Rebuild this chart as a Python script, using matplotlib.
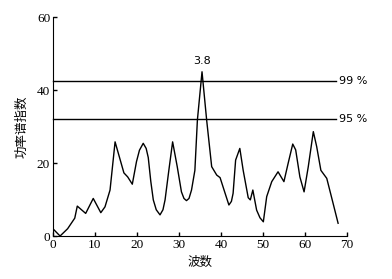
import matplotlib.pyplot as plt

# power spectrum
wave_no = [0, 1.7, 3.5, 5.2, 5.8, 7.8, 9.6, 11.4, 12.4, 13.6, 14.8, 16.9, 17.8, 18.9,
           19.9, 20.6, 21.5, 22.2, 22.7, 23.3, 23.9, 24.6, 25.5, 26.2, 26.7, 27.6, 28.5,
           29.6, 30.6, 31.2, 31.8, 32.4, 33.0, 33.8, 34.4, 35.5, 36.6, 37.8, 39.0,
           39.8, 41.0, 41.9, 42.5, 42.9, 43.5, 44.5, 45.3, 46.5, 47.0, 47.6, 48.5,
           49.3, 50.1, 50.9, 52.1, 53.6, 55.0, 56.0, 57.1, 57.8, 58.8, 59.8, 60.8,
           62.0, 62.8, 63.8, 65.2, 66.5, 67.9]
power = [2.0, 0.0, 2.0, 4.9, 8.2, 6.2, 10.3, 6.4, 8.0, 12.6, 25.8, 17.3, 16.2, 14.2,
         20.4, 23.5, 25.4, 24.0, 21.5, 15.0, 9.9, 7.2, 5.8, 7.2, 9.9, 18.0, 25.8,
         19.0, 12.1, 10.3, 9.7, 10.3, 12.6, 18.0, 31.8, 45.0, 31.8, 19.0, 16.7,
         16.0, 11.7, 8.5, 9.5, 11.7, 20.8, 24.0, 18.0, 10.5, 9.9, 12.6, 7.1,
         5.0, 3.9, 10.8, 14.9, 17.6, 14.9, 19.9, 25.2, 23.6, 16.2, 12.1, 19.0,
         28.6, 24.5, 18.0, 15.8, 9.9, 3.5]

levels = [42.5, 32.0]
level_labels = ["99 %", "95 %"]
peak_label = "3.8"

fig = plt.figure(figsize=(3.92, 2.79), dpi=100)
ax = fig.add_axes([0.135, 0.154, 0.75, 0.785])

ax.plot(wave_no, power, color="black", lw=1.0)
for lv, lab in zip(levels, level_labels):
    ax.plot([0, 67.5], [lv, lv], color="black", lw=1.0, clip_on=False)
    ax.text(68.2, lv, lab, fontsize=8, va="center", ha="left", family="DejaVu Sans")

ax.text(35.5, 46.5, peak_label, fontsize=8, ha="center", va="bottom", family="DejaVu Sans")

ax.set_xlim(0, 70)
ax.set_ylim(0, 60)
ax.set_xticks([0, 10, 20, 30, 40, 50, 60, 70])
ax.set_yticks([0, 20, 40, 60])
ax.spines["top"].set_visible(False)
ax.spines["right"].set_visible(False)
ax.tick_params(direction="in", length=3, width=1, labelsize=9.5, pad=2)
for lbl in ax.get_xticklabels() + ax.get_yticklabels():
    lbl.set_family("Liberation Serif")

ax.set_xlabel("波数", family=["Noto Sans CJK SC", "DejaVu Sans"], fontsize=9, labelpad=4)
ax.set_ylabel("功率谱指数", family=["Noto Sans CJK SC", "DejaVu Sans"], fontsize=9, labelpad=6)

fig.savefig("out.png", dpi=100)
